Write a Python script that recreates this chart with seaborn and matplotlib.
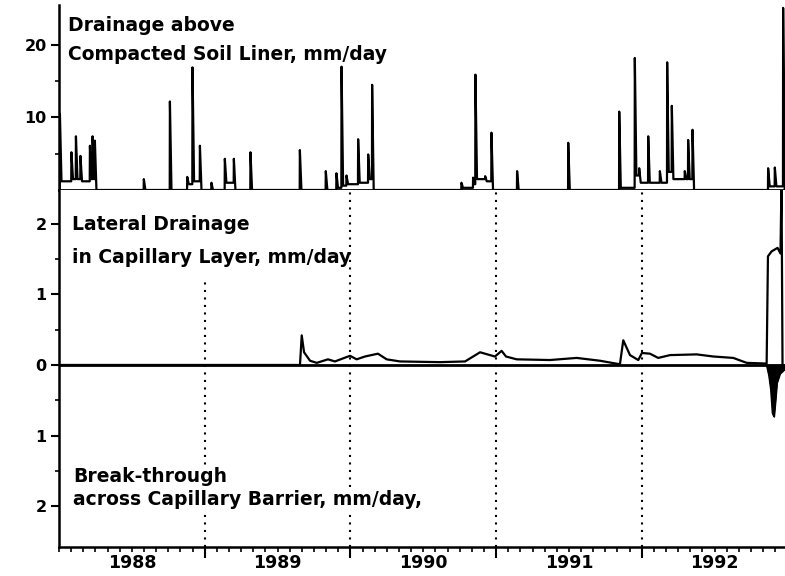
import numpy as np
import pandas as pd
import matplotlib
matplotlib.use("Agg")
import matplotlib.pyplot as plt
import seaborn as sns

# ---------------- data ----------------
# Drainage above compacted soil liner (mm/day): spike time, peak, level after decay
spike_year = [1988.005, 1988.084, 1988.115, 1988.146, 1988.211, 1988.229, 1988.245,
              1988.581, 1988.760, 1988.879, 1988.915, 1988.966, 1989.045, 1989.137,
              1989.199, 1989.313, 1989.652, 1989.830, 1989.903, 1989.938, 1989.972,
              1990.052, 1990.121, 1990.148, 1990.761, 1990.841, 1990.857, 1990.924,
              1990.967, 1991.143, 1991.494, 1991.844, 1991.951, 1991.981, 1992.043,
              1992.123, 1992.173, 1992.205, 1992.294, 1992.317, 1992.347, 1992.866,
              1992.912, 1992.969]
spike_peak = [10.5, 5.2, 7.4, 4.7, 6.1, 7.4, 6.8,
              1.5, 12.2, 1.8, 16.9, 6.1, 1.0, 4.3,
              4.3, 5.2, 5.5, 2.6, 2.3, 17.0, 2.0,
              7.0, 4.9, 14.5, 1.0, 1.7, 15.9, 1.9,
              7.9, 2.6, 6.5, 10.8, 18.2, 3.0, 7.4,
              2.6, 17.6, 11.6, 2.6, 6.9, 8.3, 3.0,
              3.1, 25.1]
spike_after = [1.2, 1.5, 1.5, 1.2, 1.5, 1.5, 0.0,
               0.0, 0.0, 0.8, 1.2, 0.0, 0.0, 1.0,
               0.0, 0.0, 0.0, 0.0, 0.3, 0.6, 0.8,
               1.0, 1.5, 0.0, 0.3, 0.8, 1.5, 1.2,
               0.0, 0.0, 0.0, 0.3, 2.0, 1.0, 1.0,
               1.0, 2.5, 1.5, 1.5, 1.5, 0.0, 0.5,
               0.5, 0.0]

# Lateral drainage in capillary layer (mm/day)
lateral_year = [1988.000, 1989.654, 1989.666, 1989.682, 1989.723, 1989.769, 1989.846,
                1989.894, 1989.997, 1990.043, 1990.100, 1990.189, 1990.249, 1990.340,
                1990.615, 1990.787, 1990.890, 1990.992, 1991.038, 1991.068, 1991.141,
                1991.370, 1991.553, 1991.713, 1991.850, 1991.873, 1991.919, 1991.976,
                1992.001, 1992.056, 1992.113, 1992.194, 1992.377, 1992.491, 1992.628,
                1992.720, 1992.857, 1992.866, 1992.891, 1992.932, 1992.952, 1992.959,
                1992.966]
lateral_value = [0.0, 0.0, 0.42, 0.18, 0.06, 0.03, 0.08,
                 0.05, 0.13, 0.08, 0.12, 0.16, 0.08, 0.05,
                 0.04, 0.05, 0.18, 0.12, 0.20, 0.12, 0.08,
                 0.07, 0.10, 0.06, 0.01, 0.35, 0.14, 0.07,
                 0.17, 0.16, 0.10, 0.14, 0.15, 0.12, 0.10,
                 0.03, 0.02, 1.54, 1.61, 1.66, 1.58, 2.60,
                 0.0]

# Break-through across capillary barrier (mm/day, drawn downward)
breakthrough_year = [1992.857, 1992.873, 1992.886, 1992.897, 1992.907, 1992.917,
                     1992.927, 1992.948, 1992.969, 1992.983]
breakthrough_value = [0.0, -0.15, -0.35, -0.68, -0.73, -0.50,
                      -0.25, -0.12, -0.08, -0.05]

year_labels = ["1988", "1989", "1990", "1991", "1992"]
year_label_pos = [1988.5, 1989.5, 1990.5, 1991.5, 1992.5]
year_bounds = [1989, 1990, 1991, 1992]
top_ticks = [10, 20]
bot_ticks = [2, 1, 0, -1, -2]
bot_tick_labels = ["2", "1", "0", "1", "2"]

# ---------------- drawing ----------------
sns.set_style("ticks")
plt.rcParams["font.family"] = ["DejaVu Sans"]
plt.rcParams.update({"text.color": "black", "axes.edgecolor": "black",
                     "xtick.color": "black", "ytick.color": "black",
                     "axes.labelcolor": "black"})

# polyline for the drainage spikes
pts_x, pts_y = [1988.0], [0.0]
prev = 0.0
for t, p, a in zip(spike_year, spike_peak, spike_after):
    pts_x += [t, t + 0.0012, t + 0.012]
    pts_y += [prev, p, a]
    prev = a
drain = pd.DataFrame({"year": pts_x, "value": pts_y})
lateral = pd.DataFrame({"year": lateral_year, "value": lateral_value})
brk = pd.DataFrame({"year": breakthrough_year, "value": breakthrough_value})

fig = plt.figure(figsize=(7.85, 5.76), dpi=100)
L, R = 59 / 785, 1.0
y_mid = 1 - 190 / 576
ax_top = fig.add_axes([L, y_mid, R - L, (1 - 5 / 576) - y_mid])
ax_bot = fig.add_axes([L, 1 - 547 / 576, R - L, y_mid - (1 - 547 / 576)])

xlim = (1988.0, 1992.983)
lw = 1.6
sns.lineplot(data=drain, x="year", y="value", ax=ax_top, color="black",
             lw=lw, sort=False, estimator=None)
ax_top.set_xlim(*xlim)
ax_top.set_ylim(0, 25.5)
ax_top.set_xlabel("")
ax_top.set_ylabel("")
ax_top.set_xticks([])
ax_top.set_yticks(top_ticks)
ax_top.set_yticks([5, 15], minor=True)
for s in ["top", "right"]:
    ax_top.spines[s].set_visible(False)
ax_top.spines["left"].set_linewidth(1.8)
ax_top.spines["bottom"].set_linewidth(2.0)

ax_bot.axhline(0, color="black", lw=2.0, zorder=2)
sns.lineplot(data=lateral, x="year", y="value", ax=ax_bot, color="black",
             lw=lw, sort=False, estimator=None, zorder=3)
sns.lineplot(data=brk, x="year", y="value", ax=ax_bot, color="black",
             lw=1.2, sort=False, estimator=None, zorder=3)
ax_bot.fill_between(brk["year"], brk["value"], 0, color="black", zorder=3)
ax_bot.set_xlim(*xlim)
ax_bot.set_ylim(-2.58, 2.48)
ax_bot.set_xlabel("")
ax_bot.set_ylabel("")
ax_bot.set_yticks(bot_ticks, bot_tick_labels)
ax_bot.set_yticks([-1.5, -0.5, 0.5, 1.5], minor=True)
ax_bot.set_xticks(year_bounds, [""] * len(year_bounds))
ax_bot.set_xticks(np.arange(1988, 1993, 1 / 12), minor=True)
for s in ["top", "right"]:
    ax_bot.spines[s].set_visible(False)
ax_bot.spines["left"].set_linewidth(1.8)
ax_bot.spines["bottom"].set_linewidth(1.8)

# dotted year-boundary lines
dot = dict(color="black", lw=1.5, ls=(0, (1, 2.6)), zorder=1)
ax_bot.vlines(year_bounds[0], -2.58, 1.23, **dot)
ax_bot.vlines(year_bounds[1:], -2.58, 2.48, **dot)

for ax in (ax_top, ax_bot):
    ax.tick_params(axis="y", which="major", length=6, width=1.5, pad=3,
                   labelsize=11.5, direction="out", colors="black")
    ax.tick_params(axis="y", which="minor", length=3, width=1.2, direction="out",
                   colors="black")
    for t in ax.get_yticklabels():
        t.set_fontweight("bold")
ax_bot.tick_params(axis="x", which="major", length=8, width=1.5, direction="out",
                   colors="black")
ax_bot.tick_params(axis="x", which="minor", length=3.5, width=1.2, direction="out",
                   colors="black")

sec = ax_bot.secondary_xaxis("bottom")
sec.set_xticks(year_label_pos, year_labels)
sec.tick_params(length=0, pad=5, labelsize=12.5, colors="black")
sec.spines["bottom"].set_visible(False)
for t in sec.get_xticklabels():
    t.set_fontweight("bold")

tk = dict(fontsize=13.5, fontweight="bold", va="baseline", ha="left", color="black")
ax_top.text(0.012, 0.86, "Drainage above", transform=ax_top.transAxes, **tk)
ax_top.text(0.012, 0.705, "Compacted Soil Liner, mm/day", transform=ax_top.transAxes, **tk)
ax_bot.text(0.018, 0.888, "Lateral Drainage", transform=ax_bot.transAxes, **tk)
ax_bot.text(0.018, 0.7955, "in Capillary Layer, mm/day", transform=ax_bot.transAxes, **tk)
box = dict(facecolor="white", edgecolor="none", pad=1.5)
ax_bot.text(0.019, 0.183, "Break-through", transform=ax_bot.transAxes,
            bbox=box, zorder=5, **tk)
ax_bot.text(0.019, 0.1176, "across Capillary Barrier, mm/day,", transform=ax_bot.transAxes,
            bbox=box, zorder=5, **tk)

fig.savefig("out.png", dpi=100)
